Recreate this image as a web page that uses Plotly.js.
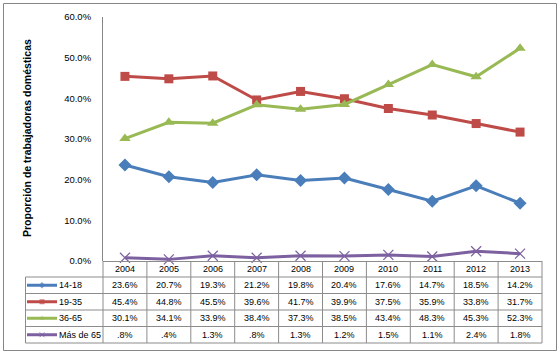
<!DOCTYPE html>
<html><head><meta charset="utf-8">
<script src="https://cdn.plot.ly/plotly-3.0.1.min.js"></script>
<style>html,body{margin:0;padding:0;background:#fff;}#chart{width:560px;height:355px;}</style>
</head><body><div id="chart"></div>
<script>
const years = ['2004','2005','2006','2007','2008','2009','2010','2011','2012','2013'];
const seriesNames = ['14-18','19-35','36-65','Más de 65'];
const v1418 = [23.6,20.7,19.3,21.2,19.8,20.4,17.6,14.7,18.5,14.2];
const v1935 = [45.4,44.8,45.5,39.6,41.7,39.9,37.5,35.9,33.8,31.7];
const v3665 = [30.1,34.1,33.9,38.4,37.3,38.5,43.4,48.3,45.3,52.3];
const vMas65 = [0.8,0.4,1.3,0.8,1.3,1.2,1.5,1.1,2.4,1.8];
const yTicks = [0,10,20,30,40,50,60];
const yTitle = 'Proporción de trabajadoras domésticas';

const allValues = [v1418,v1935,v3665,vMas65];
const colors = ['#4a7ebb','#be4b48','#98b954','#7d60a0'];
const symbols = ['diamond','square','triangle-up','x-thin'];
const msizes = [10,9,10,10];
const FONT = 'Liberation Sans, Arial, sans-serif';

// layout geometry (pixels)
const W=560, H=355;
const L=103, R=542, T=17, B=261;
const headerBottom = 277, rowH = 16.5, legLeft = 25.5;
const rowTop = i => headerBottom + i*rowH;
const colW = (R-L)/years.length;
const colCenter = c => L + (c+0.5)*colW;

const fmt = v => (v<1 ? ('.'+Math.round(v*10)) : v.toFixed(1)) + '%';

const traces = [];
allValues.forEach((vals,i)=>{
  traces.push({
    type:'scatter', mode:'lines+markers', x:years, y:vals, name:seriesNames[i],
    line:{color:colors[i], width:3},
    marker:{symbol:symbols[i], size:msizes[i], color:colors[i],
            line:{color:colors[i], width: symbols[i]==='x-thin'?1.2:0}},
    cliponaxis:false, showlegend:false, hoverinfo:'skip'
  });
});
// legend keys inside table (pixel overlay subplot)
seriesNames.forEach((n,i)=>{
  const yc = rowTop(i)+rowH/2;
  traces.push({
    type:'scatter', mode:'lines+markers', xaxis:'x2', yaxis:'y2',
    x:[27,42,57], y:[yc,yc,yc],
    line:{color:colors[i], width:3},
    marker:{symbol:symbols[i], size:[0,5,0], color:colors[i],
            line:{color:colors[i], width: symbols[i]==='x-thin'?1:0}},
    cliponaxis:false, showlegend:false, hoverinfo:'skip'
  });
});

const grid = '#8c8c8c';
const shapes = [];
const annotations = [];
const hl = (x0,x1,y) => shapes.push({type:'line', xref:'x2', yref:'y2', x0:x0, x1:x1, y0:y, y1:y, line:{color:grid,width:1}});
const vl = (x,y0,y1) => shapes.push({type:'line', xref:'x2', yref:'y2', x0:x, x1:x, y0:y0, y1:y1, line:{color:grid,width:1}});
// outer border
shapes.push({type:'rect', xref:'x2', yref:'y2', x0:3.5, x1:556.5, y0:3.5, y1:350.5, line:{color:'#868686', width:1}});
hl(L, R, B+0.5);
for(let i=0;i<=seriesNames.length;i++) hl(legLeft, R, rowTop(i));
vl(legLeft, headerBottom, rowTop(seriesNames.length));
for(let c=0;c<=years.length;c++) vl(L + c*colW, B, rowTop(seriesNames.length));

const tf = {family:FONT, size:9, color:'#000'};
years.forEach((yr,c)=>{
  annotations.push({xref:'x2', yref:'y2', x:colCenter(c), y:(B+headerBottom)/2, text:yr, showarrow:false, font:tf, xanchor:'center', yanchor:'middle'});
});
allValues.forEach((vals,i)=>{
  const yc = rowTop(i)+rowH/2;
  annotations.push({xref:'x2', yref:'y2', x:57, y:yc, text:seriesNames[i], showarrow:false, font:tf, xanchor:'left', yanchor:'middle'});
  vals.forEach((v,c)=>{
    annotations.push({xref:'x2', yref:'y2', x:colCenter(c), y:yc, text:fmt(v), showarrow:false, font:tf, xanchor:'center', yanchor:'middle'});
  });
});
annotations.push({xref:'x2', yref:'y2', x:26.5, y:138.5, text:yTitle, textangle:-90, showarrow:false,
  font:{family:FONT, size:10.5, color:'#000', weight:'bold'}, xanchor:'center', yanchor:'middle'});

const layout = {
  width:W, height:H,
  margin:{l:0, r:0, t:0, b:0, pad:0},
  paper_bgcolor:'#fff', plot_bgcolor:'rgba(0,0,0,0)',
  showlegend:false,
  xaxis:{domain:[L/W, R/W], anchor:'y', type:'category', range:[-0.5,9.5], showticklabels:false, showgrid:false, zeroline:false, showline:false, ticks:'', fixedrange:true},
  yaxis:{domain:[(H-B)/H, (H-T)/H], anchor:'x', range:[0,60], tickvals:yTicks, ticktext:yTicks.map(t=>t.toFixed(1)+'%'), showgrid:false, zeroline:false,
         showline:true, linecolor:'#868686', linewidth:1, ticks:'outside', ticklen:9, tickcolor:'rgba(0,0,0,0)',
         tickfont:{family:FONT, size:9.5, color:'#000'}, fixedrange:true},
  xaxis2:{domain:[0,1], anchor:'y2', range:[0,W], visible:false, fixedrange:true},
  yaxis2:{domain:[0,1], anchor:'x2', range:[H,0], visible:false, fixedrange:true},
  shapes:shapes, annotations:annotations
};
Plotly.newPlot('chart', traces, layout, {displayModeBar:false, staticPlot:true});
</script></body></html>
